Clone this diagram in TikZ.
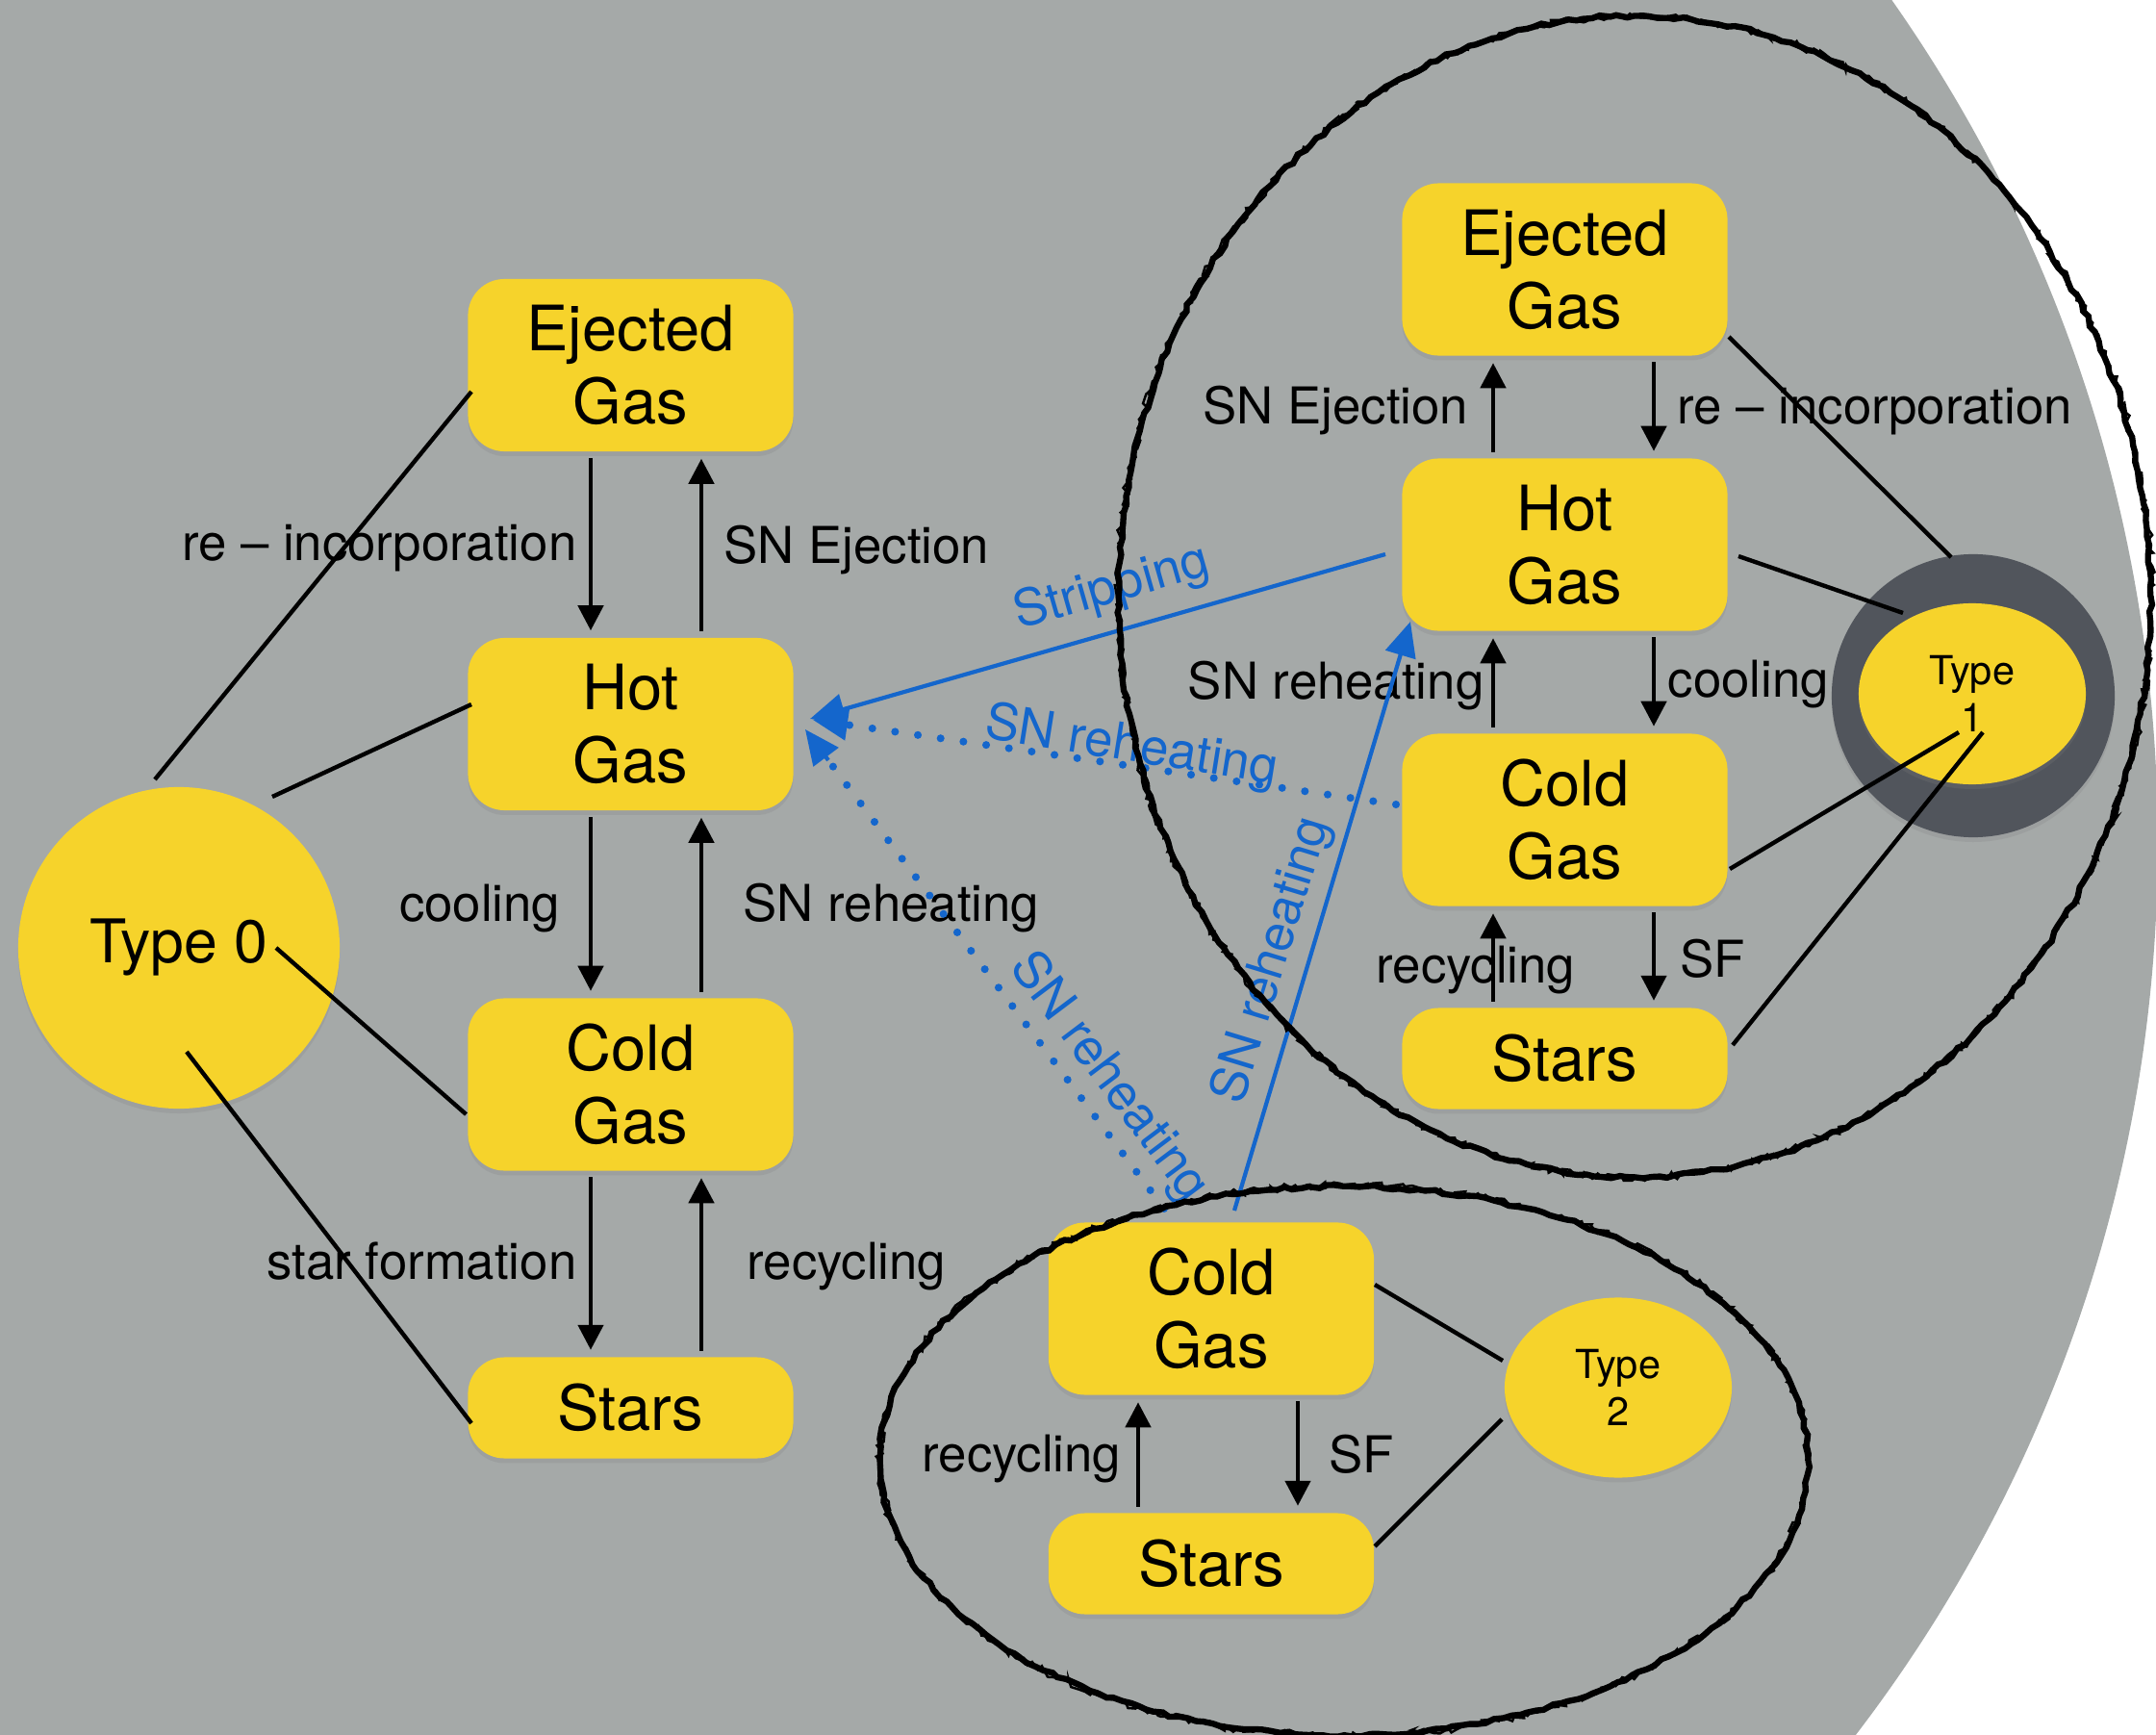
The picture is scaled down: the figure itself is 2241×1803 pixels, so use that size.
\documentclass[tikz,border=0pt]{standalone}
\usepackage{fontspec}
\setmainfont{TeX Gyre Heros}
\usetikzlibrary{arrows.meta,shadows,shapes.geometric,decorations.pathmorphing,calc}
\definecolor{bggray}{RGB}{165,169,168}
\definecolor{boxyellow}{RGB}{246,211,43}
\definecolor{ringgray}{RGB}{81,85,92}
\definecolor{flowblue}{RGB}{20,102,204}
\tikzset{
  gasbox/.style={fill=boxyellow, rounded corners=0.38cm, minimum width=3.38cm, minimum height=1.79cm, inner sep=0pt, align=center, font=\fontsize{18.5}{21.6}\selectfont, drop shadow={shadow xshift=0pt, shadow yshift=-1.4pt, opacity=0.22}},
  starbox/.style={gasbox, minimum height=1.05cm},
  typenode/.style={fill=boxyellow, inner sep=0pt, align=center, drop shadow={shadow xshift=0pt, shadow yshift=-1.4pt, opacity=0.22}},
  flow/.style={line width=1.3pt, shorten <=0.06cm, shorten >=0.07cm, -{Triangle[length=0.26cm,width=0.26cm]}},
  link/.style={line width=1.25pt},
  lbl/.style={font=\fontsize{15}{18}\selectfont, inner sep=0pt},
  bluelbl/.style={lbl, text=flowblue},
  strip/.style={draw=flowblue, line width=1.2pt, -{Triangle[length=0.36cm,width=0.32cm]}},
  dotline/.style={draw=flowblue, line width=2.3pt, line cap=round, dash pattern=on 0pt off 6.8pt},
  sketchA/.style={line width=1.8pt, decorate, decoration={random steps, segment length=2.5pt, amplitude=0.5pt}},
  sketchB/.style={line width=0.7pt, decorate, decoration={random steps, segment length=1.5pt, amplitude=1.1pt}},
}
\begin{document}
\begin{tikzpicture}[x=0.01cm, y=-0.01cm]
\useasboundingbox (0,0) rectangle (2241,1803);
\fill[white] (0,0) rectangle (2241,1803);
\begin{scope}
  \clip (0,0) rectangle (2241,1803);
  \fill[bggray] (718,876) circle (15.24cm);
\end{scope}

% ---------- Type 0 system ----------
\node[typenode, circle, minimum size=3.34cm, font=\fontsize{17.8}{21}\selectfont] (T0) at (186,985) {Type 0};
\node[gasbox] (E0) at (655.5,379.5) {Ejected\\Gas};
\node[gasbox] (H0) at (655.5,752.5) {Hot\\Gas};
\node[gasbox] (C0) at (655.5,1127) {Cold\\Gas};
\node[starbox] (S0) at (655.5,1463) {Stars};

% ---------- Type 1 system ----------
\node[circle, fill=ringgray, minimum size=2.94cm, inner sep=0pt, drop shadow={shadow xshift=0pt, shadow yshift=-1.4pt, opacity=0.22}] (T1ring) at (2051,723) {};
\node[typenode, ellipse, minimum width=2.36cm, minimum height=1.88cm, font=\fontsize{11.8}{14}\selectfont] (T1) at (2050,721) {Type\\1};
\node[gasbox] (E1) at (1626.5,280) {Ejected\\Gas};
\node[gasbox] (H1) at (1626.5,566) {Hot\\Gas};
\node[gasbox] (C1) at (1626.5,852) {Cold\\Gas};
\node[starbox] (S1) at (1626.5,1100) {Stars};

% ---------- Type 2 system ----------
\node[typenode, ellipse, minimum width=2.36cm, minimum height=1.87cm, font=\fontsize{11.8}{14}\selectfont] (T2) at (1682,1442) {Type\\2};
\node[gasbox] (C2) at (1259,1360) {Cold\\Gas};
\node[starbox] (S2) at (1259,1625) {Stars};

% ---------- vertical flows, left ----------
\draw[flow] ([shift={(-41.5,0)}]E0.south) -- ([shift={(-41.5,0)}]H0.north);
\draw[flow] ([shift={(73.5,0)}]H0.north) -- ([shift={(73.5,0)}]E0.south);
\draw[flow] ([shift={(-41.5,0)}]H0.south) -- ([shift={(-41.5,0)}]C0.north);
\draw[flow] ([shift={(73.5,0)}]C0.north) -- ([shift={(73.5,0)}]H0.south);
\draw[flow] ([shift={(-41.5,0)}]C0.south) -- ([shift={(-41.5,0)}]S0.north);
\draw[flow] ([shift={(73.5,0)}]S0.north) -- ([shift={(73.5,0)}]C0.south);

% ---------- vertical flows, right ----------
\draw[flow] ([shift={(-74.5,0)}]H1.north) -- ([shift={(-74.5,0)}]E1.south);
\draw[flow] ([shift={(92.5,0)}]E1.south) -- ([shift={(92.5,0)}]H1.north);
\draw[flow] ([shift={(-74.5,0)}]C1.north) -- ([shift={(-74.5,0)}]H1.south);
\draw[flow] ([shift={(92.5,0)}]H1.south) -- ([shift={(92.5,0)}]C1.north);
\draw[flow] ([shift={(-74.5,0)}]S1.north) -- ([shift={(-74.5,0)}]C1.south);
\draw[flow] ([shift={(92.5,0)}]C1.south) -- ([shift={(92.5,0)}]S1.north);

% ---------- vertical flows, bottom ----------
\draw[flow] ([shift={(-76,0)}]S2.north) -- ([shift={(-76,0)}]C2.south);
\draw[flow] ([shift={(90,0)}]C2.south) -- ([shift={(90,0)}]S2.north);

% ---------- labels, left ----------
\node[lbl, anchor=base east] at (600,583) {re – incorporation};
\node[lbl, anchor=base west] at (752,585) {SN Ejection};
\node[lbl, anchor=base east] at (583,957) {cooling};
\node[lbl, anchor=base west] at (772,957) {SN reheating};
\node[lbl, anchor=base east] at (600,1329) {star formation};
\node[lbl, anchor=base west] at (776,1329) {recycling};

% ---------- labels, right ----------
\node[lbl, anchor=base east] at (1527,441) {SN Ejection};
\node[lbl, anchor=base west] at (1743,441) {re – incorporation};
\node[lbl, anchor=base east] at (1543,726) {SN reheating};
\node[lbl, anchor=base west] at (1733,724) {cooling};
\node[lbl, anchor=base west] at (1430,1021) {recycling};
\node[lbl, anchor=base west] at (1746,1015) {SF};

% ---------- labels, bottom ----------
\node[lbl, anchor=base east] at (1166,1529) {recycling};
\node[lbl, anchor=base west] at (1381,1530) {SF};

% ---------- links to type nodes ----------
\draw[link] ([shift={(-25,-175)}]T0.center) -- ([shift={(-165.5,27.5)}]E0.center);
\draw[link] ([shift={(97,-157)}]T0.center) -- ([shift={(-165.5,-20.5)}]H0.center);
\draw[link] ([shift={(101,0)}]T0.center) -- ([shift={(-171,31)}]C0.center);
\draw[link] ([shift={(8,108)}]T0.center) -- ([shift={(-165.5,16)}]S0.center);

\draw[link] ([shift={(170.5,70)}]E1.center) -- ([shift={(-22,-142)}]T1.center);
\draw[link] ([shift={(180.5,12)}]H1.center) -- ([shift={(-72,-84)}]T1.center);
\draw[link] ([shift={(171.5,51)}]C1.center) -- ([shift={(-14,40)}]T1.center);
\draw[link] ([shift={(174.5,-14)}]S1.center) -- ([shift={(11,40)}]T1.center);

\draw[link] ([shift={(170,-25)}]C2.center) -- ([shift={(-120,-28)}]T2.center);
\draw[link] ([shift={(170,-18)}]S2.center) -- ([shift={(-121,33)}]T2.center);

% ---------- blue flows ----------
\coordinate (tipA) at ([shift={(186.5,-5.5)}]H0.center);
\coordinate (tipB) at ([shift={(189.5,-4.5)}]H0.center);
\coordinate (tipC) at ([shift={(181.5,5.5)}]H0.center);
\coordinate (srcB) at ([shift={(-175.5,-16)}]C1.center);
\coordinate (srcC) at ([shift={(-49,-104)}]C2.center);

\draw[strip] ([shift={(-186.5,10)}]H1.center) -- (tipA);
\draw[dotline] (srcB) -- ($(tipB)!0.3cm!(srcB)$);
\draw[strip] ($(tipB)!0.4cm!(srcB)$) -- (tipB);
\draw[dotline] (srcC) -- ($(tipC)!0.3cm!(srcC)$);
\draw[strip] ($(tipC)!0.4cm!(srcC)$) -- (tipC);
\draw[strip] ([shift={(24,-102)}]C2.center) -- ([shift={(-160.5,80)}]H1.center);

\node[bluelbl, rotate=15.9] at (1156,612) {Stripping};
\node[bluelbl, rotate=-9] at (1176,777) {SN reheating};
\node[bluelbl, rotate=-53] at (1152,1120) {SN reheating};
\node[bluelbl, rotate=73] at (1323,998) {SN reheating};

% ---------- sketchy group outlines ----------
\pgfmathsetseed{7}
\draw[sketchA] (1699,620) ellipse [x radius=5.36cm, y radius=6.03cm];
\draw[sketchB] (1699,620) ellipse [x radius=5.37cm, y radius=6.03cm];
\draw[sketchA] (1397,1518) ellipse [x radius=4.82cm, y radius=2.85cm];
\draw[sketchB] (1397,1518) ellipse [x radius=4.82cm, y radius=2.86cm];
\end{tikzpicture}
\end{document}
